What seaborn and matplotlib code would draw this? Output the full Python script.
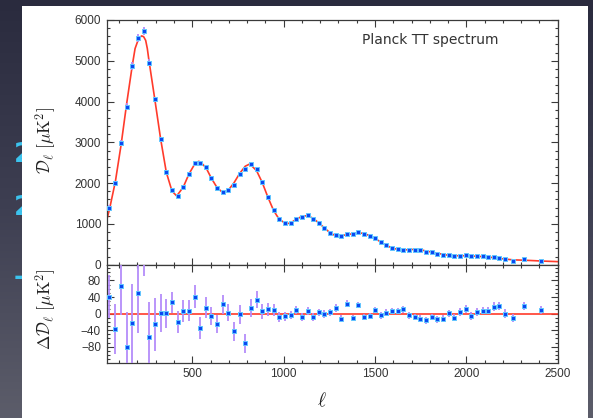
import numpy as np
import matplotlib
matplotlib.use("Agg")
import matplotlib.pyplot as plt
import seaborn as sns
from matplotlib.colors import LinearSegmentedColormap
from matplotlib.patches import Rectangle
from matplotlib.ticker import MultipleLocator, FixedLocator

# Binned multipoles
ell = [46, 79, 110, 141, 172, 203, 234, 263, 294, 327, 358, 389, 420, 451, 482,
       513, 544, 575, 604, 635, 666, 697, 728, 759, 790, 821, 852, 883, 914, 945,
       975, 1007, 1038, 1068, 1099, 1131, 1161, 1192, 1223, 1254, 1285, 1316, 1345,
       1378, 1407, 1440, 1471, 1500, 1531, 1562, 1593, 1624, 1655, 1686, 1717, 1748,
       1779, 1810, 1841, 1872, 1903, 1934, 1965, 1996, 2027, 2057, 2089, 2120, 2150,
       2181, 2212, 2258, 2318, 2411]

# Measured band powers D_ell [muK^2]
dl = [1400, 2000, 2990, 3870, 4870, 5550, 5720, 4950, 4060, 3080, 2265, 1830, 1690,
      1910, 2230, 2505, 2485, 2395, 2120, 1870, 1790, 1825, 1965, 2235, 2345, 2470,
      2340, 2020, 1665, 1340, 1110, 1015, 1015, 1120, 1175, 1210, 1130, 1030, 900,
      785, 720, 705, 745, 752, 800, 760, 705, 648, 556, 475, 417, 380, 368, 368, 368,
      360, 320, 303, 270, 240, 230, 213, 221, 230, 205, 213, 205, 196, 180, 165, 132,
      98, 132, 98]

# Residuals with respect to the best-fit model [muK^2]
res = [41, -37, 66, -80, -23, 50, 190, -57, -26, 1, 1, 27, -21, 6, 7, 41, -35, 14,
       -6, -26, 22, 2, -43, -2, -72, 14, 34, 6, 10, 8, -8, -6, -4, 8, -8, 6, -8, 3,
       -1, 3, 13, -12, 24, -11, 21, -8, -6, 9, -4, 2, 6, 6, 10, -4, -8, -12, -16, -8,
       -14, -12, 1, -10, 4, 11, -6, 4, 7, 7, 17, 19, 0, -11, 18, 9]

# 1-sigma uncertainties [muK^2]
err = [52, 60, 70, 85, 95, 98, 100, 85, 64, 46, 35, 25, 27, 26, 26, 27, 26, 25, 22,
       22, 22, 20, 22, 22, 22, 22, 20, 18, 16, 14, 12, 11, 10, 10, 10, 10, 9, 9, 9, 9,
       9, 8, 8, 8, 8, 8, 8, 8, 8, 8, 8, 8, 8, 8, 8, 8, 8, 8, 8, 8, 8, 8, 9, 9, 9, 9, 9,
       9, 10, 10, 10, 10, 10, 10]

# Best-fit theory spectrum
model_ell = [35, 47, 79, 110, 141, 172, 187, 203, 213, 223, 234, 245, 254, 263, 294,
             327, 358, 389, 415, 451, 482, 513, 535, 544, 575, 604, 635, 666, 697,
             728, 759, 790, 815, 852, 883, 914, 945, 975, 1007, 1020, 1038, 1068,
             1099, 1131, 1161, 1192, 1223, 1254, 1285, 1316, 1345, 1378, 1407, 1440,
             1471, 1500, 1531, 1562, 1593, 1624, 1655, 1686, 1717, 1748, 1779, 1810,
             1841, 1872, 1903, 1934, 1965, 1996, 2027, 2057, 2089, 2120, 2150, 2181,
             2212, 2258, 2318, 2411, 2500]
model_dl = [1150, 1360, 2035, 2925, 3950, 4895, 5300, 5500, 5575, 5610, 5590, 5500,
            5300, 5005, 4085, 3080, 2265, 1805, 1685, 1905, 2225, 2465, 2535, 2520,
            2380, 2125, 1895, 1770, 1825, 2005, 2235, 2415, 2470, 2305, 2015, 1655,
            1330, 1118, 1020, 1010, 1020, 1112, 1183, 1205, 1138, 1027, 901, 783, 707,
            712, 735, 760, 780, 768, 710, 640, 560, 473, 412, 375, 360, 370, 375, 370,
            335, 310, 283, 252, 230, 222, 218, 220, 212, 208, 198, 188, 172, 155, 138,
            118, 110, 90, 75]

sns.set_theme(style="ticks")
plt.rcParams["font.family"] = ["Liberation Sans", "DejaVu Sans"]
plt.rcParams["mathtext.fontset"] = "cm"

W, H = 593, 418
fig = plt.figure(figsize=(W / 100, H / 100), dpi=100)

# Slide backdrop with a white card behind the plot
bg = fig.add_axes([0, 0, 1, 1], zorder=-10)
grad = np.linspace(0, 1, 256).reshape(-1, 1)
cmap = LinearSegmentedColormap.from_list("slide", ["#2a2b3e", "#3e3f52", "#5c5d6a"])
bg.imshow(grad, aspect="auto", cmap=cmap, extent=[0, W, H, 0])
for yc, s in [(155, "2"), (208, "2"), (278, "-")]:
    bg.text(14, yc, s, color="#3cc3ee", fontsize=19, fontweight="bold",
            ha="left", va="center", family="DejaVu Sans")
bg.add_patch(Rectangle((22, 6), 566, 420, facecolor="white", edgecolor="none", zorder=5))
bg.set_xlim(0, W)
bg.set_ylim(H, 0)
bg.axis("off")

L, R = 107.3, 557.7
top_t, top_b, low_b = 20, 264.7, 362.5
ax1 = fig.add_axes([L / W, 1 - top_b / H, (R - L) / W, (top_b - top_t) / H])
ax2 = fig.add_axes([L / W, 1 - low_b / H, (R - L) / W, (low_b - top_b) / H])

red = "#ff3b2b"
pt_face = "#0b48f2"
pt_edge = "#62c6ff"
bar_col = "#b48cfa"
msize = 11

# Upper panel: spectrum
sns.lineplot(x=model_ell, y=model_dl, ax=ax1, color=red, lw=1.2, zorder=2)
ax1.errorbar(ell, dl, yerr=err, fmt="none", ecolor=bar_col, elinewidth=1.3, zorder=3)
sns.scatterplot(x=ell, y=dl, ax=ax1, marker="s", s=msize, color=pt_face,
                edgecolor=pt_edge, linewidth=0.7, zorder=4)
ax1.set_xlim(35, 2500)
ax1.set_ylim(0, 6000)
ax1.yaxis.set_major_locator(MultipleLocator(1000))
ax1.yaxis.set_minor_locator(MultipleLocator(200))
ax1.xaxis.set_major_locator(MultipleLocator(500))
ax1.xaxis.set_minor_locator(MultipleLocator(100))
ax1.tick_params(axis="x", labelbottom=False)
ax1.text(0.7165, 0.918, "Planck TT spectrum", transform=ax1.transAxes,
         ha="center", va="center", fontsize=10, color="#333333",
         family="DejaVu Sans")

# Lower panel: residuals
ax2.axhline(0, color=red, lw=1.2, zorder=2)
ax2.errorbar(ell, res, yerr=err, fmt="none", ecolor=bar_col, elinewidth=1.3, zorder=3)
sns.scatterplot(x=ell, y=res, ax=ax2, marker="s", s=msize, color=pt_face,
                edgecolor=pt_edge, linewidth=0.7, zorder=4)
ax2.set_xlim(35, 2500)
ax2.set_ylim(-118, 118)
ax2.yaxis.set_major_locator(FixedLocator([-80, -40, 0, 40, 80]))
ax2.yaxis.set_minor_locator(MultipleLocator(10))
ax2.xaxis.set_major_locator(FixedLocator([500, 1000, 1500, 2000, 2500]))
ax2.xaxis.set_minor_locator(MultipleLocator(100))

for ax in (ax1, ax2):
    ax.set_facecolor("white")
    ax.set_xlabel("")
    ax.set_ylabel("")
    for sp in ax.spines.values():
        sp.set_color("#3a3a3a")
        sp.set_linewidth(0.9)
        sp.set_visible(True)
    ax.tick_params(which="both", direction="in", top=True, right=True,
                   color="#3a3a3a", width=0.8, labelsize=8.5, labelcolor="#333333")
    ax.tick_params(which="major", length=5, pad=4.5)
    ax.tick_params(which="minor", length=2.5)
ax2.tick_params(axis="x", which="major", pad=4)

fig.text(46 / W, 1 - 141 / H, r"$\mathcal{D}_\ell\ [\mu\mathrm{K}^2]$", rotation=90,
         ha="center", va="center", fontsize=12.5, color="#222222")
fig.text(46 / W, 1 - 309 / H, r"$\Delta\mathcal{D}_\ell\ [\mu\mathrm{K}^2]$", rotation=90,
         ha="center", va="center", fontsize=12.5, color="#222222")
fig.text(322 / W, 1 - 401 / H, r"$\ell$", ha="center", va="center",
         fontsize=14, color="#222222")

fig.savefig("out.png", dpi=100)
